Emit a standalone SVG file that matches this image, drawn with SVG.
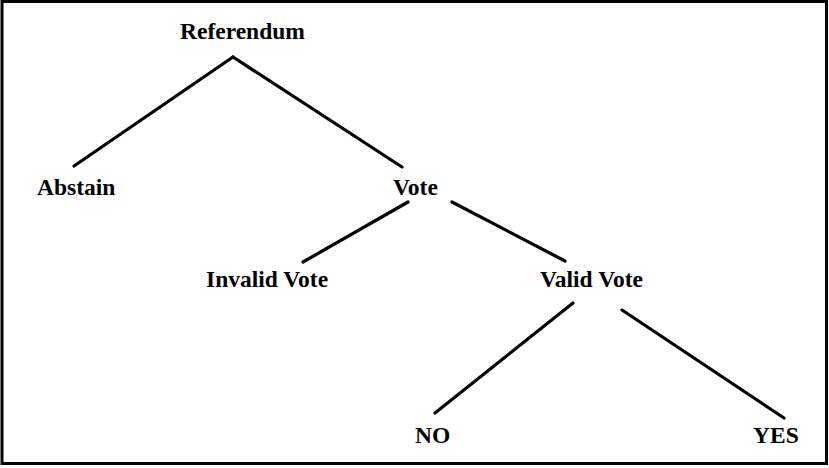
<svg xmlns="http://www.w3.org/2000/svg" width="829" height="468" viewBox="0 0 829 468">
<style>
.lbl{font-family:"Liberation Serif","Times New Roman",serif;font-weight:bold;font-size:23.5px;fill:#000}
.edge{stroke:#000;stroke-width:3.2;stroke-linecap:round;fill:none}
</style>
<rect x="0" y="0" width="829" height="468" fill="#fff"/>
<rect x="2" y="1.5" width="824.5" height="462" fill="none" stroke="#000" stroke-width="3"/>
<g id="connectors">
<line class="edge" x1="233" y1="57" x2="74" y2="166"/>
<line class="edge" x1="233" y1="57" x2="402" y2="167"/>
<line class="edge" x1="408" y1="202" x2="303" y2="262"/>
<line class="edge" x1="452" y1="202" x2="565" y2="261"/>
<line class="edge" x1="573" y1="303" x2="435" y2="413"/>
<line class="edge" x1="622" y1="310" x2="784" y2="418"/>
</g>
<g id="referendum"><text class="lbl" x="180" y="39">Referendum</text></g>
<g id="abstain"><text class="lbl" x="37" y="195">Abstain</text></g>
<g id="vote"><text class="lbl" x="393" y="195">Vote</text></g>
<g id="invalid-vote"><text class="lbl" x="206" y="287">Invalid Vote</text></g>
<g id="valid-vote"><text class="lbl" x="540" y="287">Valid Vote</text></g>
<g id="no"><text class="lbl" x="415" y="443">NO</text></g>
<g id="yes"><text class="lbl" x="753" y="443">YES</text></g>
</svg>
